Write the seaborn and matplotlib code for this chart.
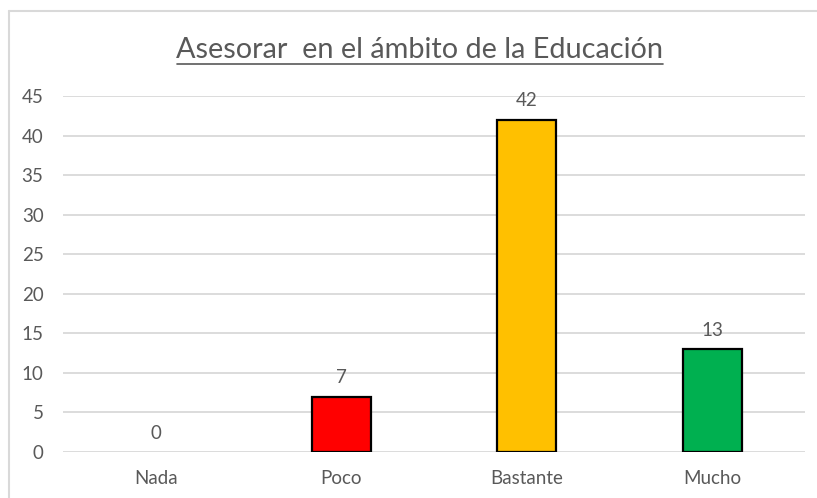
import matplotlib.pyplot as plt
import pandas as pd
import seaborn as sns
from matplotlib.lines import Line2D

categorias = ["Nada", "Poco", "Bastante", "Mucho"]
valores = [0, 7, 42, 13]
colores = ["#4472C4", "#FF0000", "#FFC000", "#00B050"]
titulo = "Asesorar  en el ámbito de la Educación"

df = pd.DataFrame({"categoria": categorias, "valor": valores})

sns.set_style("white")
plt.rcParams["font.family"] = ["Lato", "DejaVu Sans"]
gris = "#595959"

fig = plt.figure(figsize=(8.17, 4.98), dpi=100)
ax = fig.add_axes([63 / 817, 1 - 452 / 498, 742 / 817, 356 / 498])

sns.barplot(data=df, x="categoria", y="valor", hue="categoria",
            palette=colores, saturation=1, width=0.32, edgecolor="black",
            linewidth=1.6, legend=False, ax=ax)

# la barra de valor 0 no se ve
for p in ax.patches:
    if p.get_height() == 0:
        p.set_linewidth(0)

for cont in ax.containers:
    ax.bar_label(cont, padding=7.5, fontsize=13.5, color=gris)

ax.set_ylim(0, 45)
ax.set_yticks(range(0, 46, 5))
ax.set_xlim(-0.5, 3.5)
ax.grid(axis="y", color="#d9d9d9", linewidth=1.3)
ax.set_axisbelow(True)
for s in ax.spines.values():
    s.set_visible(False)
ax.tick_params(axis="both", length=0, labelsize=13.5, labelcolor=gris)
ax.tick_params(axis="y", pad=14)
ax.tick_params(axis="x", pad=13)
ax.set_xlabel("")
ax.set_ylabel("")

# titulo subrayado
t = fig.text(420 / 817, 1 - 50 / 498, titulo, ha="center", va="center",
             fontsize=20.8, color=gris)
fig.canvas.draw()
bb = t.get_window_extent().transformed(fig.transFigure.inverted())
yl = 1 - 64 / 498
fig.add_artist(Line2D([bb.x0, bb.x1], [yl, yl], transform=fig.transFigure,
                      color=gris, linewidth=1.2))

# borde del grafico (arriba e izquierda)
yt = 1 - 11 / 498
xb = 8.5 / 817
fig.add_artist(Line2D([xb, 1], [yt, yt], transform=fig.transFigure,
                      color="#d9d9d9", linewidth=1.5))
fig.add_artist(Line2D([xb, xb], [0, yt], transform=fig.transFigure,
                      color="#d9d9d9", linewidth=1.5))

fig.savefig("out.png", dpi=100)
